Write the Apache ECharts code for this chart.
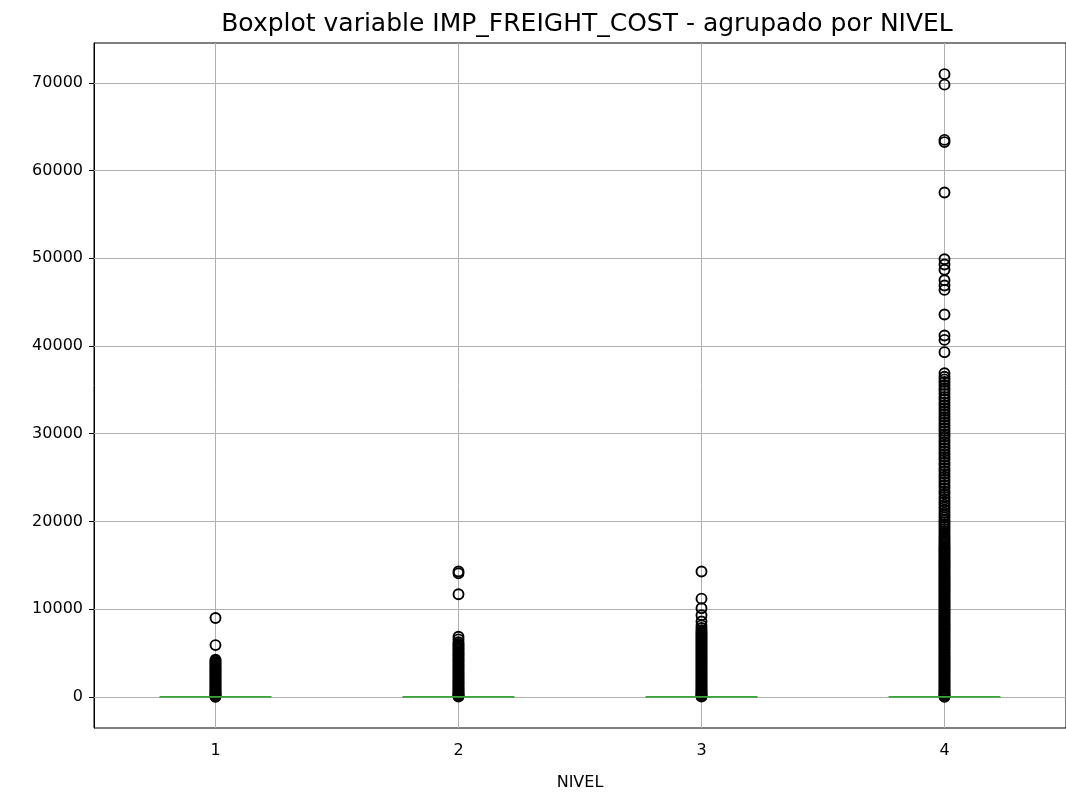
<!DOCTYPE html>
<html>
<head>
<meta charset="utf-8">
<script src="https://cdn.jsdelivr.net/npm/echarts@6/dist/echarts.min.js"></script>
<style>
  html, body { margin: 0; padding: 0; background: #fff; }
  #chart { width: 1066px; height: 796px; }
</style>
</head>
<body>
<div id="chart"></div>
<script>
// NIVEL groups on the x axis
const categories = ['1', '2', '3', '4'];

// Box statistics per group: [min, Q1, median, Q3, max] (the box collapses at 0)
const boxStats = [
  [0, 0, 0, 0, 0],
  [0, 0, 0, 0, 0],
  [0, 0, 0, 0, 0],
  [0, 0, 0, 0, 0]
];

// Outliers (IMP_FREIGHT_COST) per NIVEL
const outliersNivel1 = [9000, 5900,
  4250, 4110, 3950, 3820, 3660, 3500, 3380, 3210, 3070, 2940, 2780, 2650, 2490, 2350, 2220,
  2060, 1910, 1790, 1630, 1480, 1350, 1190, 1060, 910, 780, 630, 510, 380, 260, 150, 60, 20];

const outliersNivel2 = [14300, 14080, 11700, 6850, 6550,
  6230, 6040, 5880, 5690, 5530, 5370, 5180, 5010, 4840, 4680, 4490, 4320, 4150, 3990, 3810,
  3640, 3480, 3300, 3150, 2960, 2790, 2630, 2450, 2290, 2110, 1950, 1790, 1610, 1460, 1300,
  1130, 990, 830, 690, 540, 420, 290, 180, 90, 30];

const outliersNivel3 = [14300, 11200, 10100, 9300, 8600, 8150, 7850, 7600,
  7390, 7230, 7050, 6900, 6710, 6560, 6370, 6220, 6030, 5880, 5690, 5540, 5350, 5200, 5010,
  4860, 4670, 4520, 4330, 4180, 3990, 3840, 3650, 3500, 3310, 3160, 2970, 2820, 2630, 2480,
  2290, 2140, 1950, 1800, 1610, 1460, 1290, 1130, 980, 820, 680, 530, 410, 280, 170, 80, 30];

const outliersNivel4 = [71000, 69800, 63500, 63250, 57500, 49900, 49300, 48700, 47500, 46900,
  46400, 43600, 41200, 40700, 39300,
  36900, 36500, 36200, 35900, 35550, 35200, 34900, 34550, 34200, 33900, 33550, 33250, 32900,
  32600, 32250, 31900, 31600, 31250, 30950, 30600, 30300, 29950, 29650, 29300, 29000, 28650,
  28350, 28000, 27700, 27350, 27050, 26700, 26400, 26050, 25750, 25400, 25100, 24750, 24450,
  24100, 23800, 23450, 23150, 22800, 22500, 22200, 21900, 21600, 21300, 21000, 20700, 20450,
  20150, 19900, 19650, 19400, 19150, 18900, 18650, 18400, 18180, 17950, 17720, 17500,
  17300, 17100, 16920, 16750, 16560, 16400, 16220, 16050, 15870, 15700, 15520, 15350, 15170,
  15010, 14830, 14680, 14490, 14340, 14160, 14000, 13820, 13670, 13480, 13330, 13150, 12990,
  12810, 12660, 12470, 12320, 12140, 11980, 11800, 11650, 11460, 11310, 11130, 10970, 10790,
  10640, 10450, 10300, 10120, 9960, 9780, 9630, 9440, 9290, 9110, 8950, 8770, 8620, 8430,
  8280, 8100, 7940, 7760, 7610, 7420, 7270, 7090, 6930, 6750, 6600, 6410, 6260, 6080, 5920,
  5740, 5590, 5400, 5250, 5070, 4910, 4730, 4580, 4390, 4240, 4060, 3900, 3720, 3570, 3380,
  3230, 3050, 2890, 2710, 2560, 2370, 2220, 2040, 1880, 1700, 1550, 1360, 1210, 1030, 880,
  720, 570, 430, 300, 180, 80, 20];

// Y axis tick labels and range
const yTicks = [0, 10000, 20000, 30000, 40000, 50000, 60000, 70000];
const yMin = -3550;
const yMax = 74550;

const outlierGroups = [outliersNivel1, outliersNivel2, outliersNivel3, outliersNivel4];
const outlierPoints = [];
outlierGroups.forEach((vals, i) => {
  vals.forEach(v => outlierPoints.push([categories[i], v]));
});

const FONT = 'DejaVu Sans';
const GRID_COLOR = '#b0b0b0';

const chart = echarts.init(document.getElementById('chart'), null, { renderer: 'canvas' });
chart.setOption({
  animation: false,
  backgroundColor: '#ffffff',
  title: {
    text: 'Boxplot variable IMP_FREIGHT_COST - agrupado por NIVEL',
    left: 582,
    textAlign: 'center',
    top: 7,
    textStyle: { fontFamily: FONT, fontSize: 25, fontWeight: 'normal', color: '#000' }
  },
  grid: {
    left: 94, right: -4, top: 43, bottom: 67,
    show: true, borderColor: '#000', borderWidth: 1, backgroundColor: 'transparent'
  },
  xAxis: {
    type: 'category',
    data: categories,
    boundaryGap: true,
    name: 'NIVEL',
    nameLocation: 'middle',
    nameGap: 47,
    nameTextStyle: { fontFamily: FONT, fontSize: 16, color: '#000' },
    axisLine: { show: true, lineStyle: { color: '#000', width: 1 } },
    axisTick: { show: true, alignWithLabel: true, length: 5, lineStyle: { color: '#000' } },
    axisLabel: { fontFamily: FONT, fontSize: 16, color: '#000', margin: 15 },
    splitLine: { show: false }
  },
  yAxis: {
    type: 'value',
    min: yMin,
    max: yMax,
    axisLine: { show: true, lineStyle: { color: '#000', width: 1 } },
    axisTick: { show: true, length: 5, customValues: yTicks, lineStyle: { color: '#000' } },
    axisLabel: {
      fontFamily: FONT, fontSize: 16, color: '#000', margin: 11,
      customValues: yTicks,
      formatter: v => String(v)
    },
    splitLine: { show: false }
  },
  series: [
    {
      // grid lines
      type: 'scatter',
      data: [],
      z: 1,
      silent: true,
      markLine: {
        z: 1,
        silent: true,
        symbol: ['none', 'none'],
        label: { show: false },
        lineStyle: { color: GRID_COLOR, width: 1, type: 'solid' },
        emphasis: { disabled: true },
        data: yTicks.map(v => ({ yAxis: v })).concat(categories.map(c => ({ xAxis: c })))
      }
    },
    {
      type: 'scatter',
      data: outlierPoints,
      z: 2,
      symbol: 'circle',
      symbolSize: 10,
      itemStyle: { color: 'rgba(0,0,0,0)', borderColor: '#000', borderWidth: 1.9, opacity: 1 }
    },
    {
      type: 'boxplot',
      data: boxStats,
      z: 3,
      boxWidth: [112, 112],
      itemStyle: { color: 'rgba(0,0,0,0)', borderColor: '#3aa63a', borderWidth: 1.6 }
    }
  ]
});
</script>
</body>
</html>
